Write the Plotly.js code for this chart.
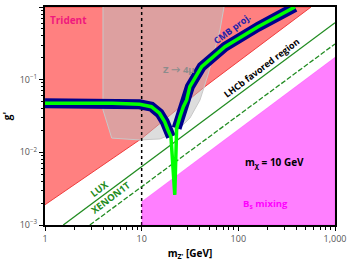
<!DOCTYPE html>
<html><head><meta charset="utf-8">
<script src="https://cdn.plot.ly/plotly-3.0.1.min.js"></script>
<style>html,body{margin:0;padding:0;background:#fff}#c{width:350px;height:268px}</style>
</head><body><div id="c"></div>
<script>
// Trident exclusion boundary (m_Z' [GeV], g')
const tridentX = [1, 10, 45, 565];
const tridentG = [0.0019, 0.0155, 0.08, 1];
// Z -> 4mu exclusion region outline
const zmuX = [3.98, 3.98, 4.9, 9.6, 15.5, 22.1, 31.6, 40.1, 48.5, 57.4, 64.6, 71.1];
const zmuG = [1, 0.0383, 0.0157, 0.0148, 0.0153, 0.0185, 0.0297, 0.0525, 0.116, 0.256, 0.483, 1];
// CMB projection (relic) curve, left and right branches, plus resonance dip
const cmbLeftX = [1, 5, 9.5, 12.6, 15.3, 17.3, 18.7, 20.1];
const cmbLeftG = [0.0473, 0.0472, 0.0458, 0.0425, 0.0345, 0.0264, 0.0203, 0.0163];
const dipX = [22.0];
const dipG = [0.00259];
const cmbRightX = [23.0, 24.9, 27.0, 29.2, 31.5, 41.8, 72.8, 160, 385];
const cmbRightG = [0.0214, 0.0309, 0.0425, 0.0525, 0.08, 0.151, 0.284, 0.535, 1.0];
// Direct detection lines
const luxX = [1.545, 1000];
const luxG = [0.001, 0.608];
const xenonX = [2.91, 1000];
const xenonG = [0.001, 0.31];
// Bs mixing exclusion boundary
const bsX = [10, 1000];
const bsG = [0.00209, 0.203];
// DM mass marker
const mChi = 10;
const gRange = [0.001, 1];
// ticks
const xTicks = [1, 10, 100, 1000];
const xTickText = ['1', '10', '100', '1,000'];
const yTicks = [0.001, 0.01, 0.1, 1];
const yTickText = ['10<sup>−3</sup>', '10<sup>−2</sup>', '10<sup>−1</sup>', '10<sup>0</sup>'];

const FONT = 'Open Sans, Lato, sans-serif';
const traces = [];
// Trident (red)
traces.push({x: tridentX.concat([tridentX[0]]), y: tridentG.concat([gRange[1]]), mode: 'lines', fill: 'toself',
  fillcolor: 'rgb(255,128,128)', line: {color: 'rgb(240,60,60)', width: 1}, hoverinfo: 'skip'});
// Z -> 4mu (grey, translucent)
traces.push({x: zmuX, y: zmuG, mode: 'lines', fill: 'toself', fillcolor: 'rgba(190,190,190,0.52)',
  line: {color: 'rgb(200,200,200)', width: 1}, hoverinfo: 'skip'});
// dotted m_chi line
traces.push({x: [mChi, mChi], y: gRange, mode: 'lines', line: {color: 'black', width: 1.5, dash: 'dot'}, hoverinfo: 'skip'});
// Bs mixing (magenta)
traces.push({x: bsX.concat([bsX[1], bsX[0]]), y: bsG.concat([gRange[0], gRange[0]]), mode: 'lines', fill: 'toself',
  fillcolor: 'rgba(255,0,255,0.5)', line: {color: 'rgba(255,0,255,0.5)', width: 0.5}, hoverinfo: 'skip'});
// LUX, XENON1T
traces.push({x: luxX, y: luxG, mode: 'lines', line: {color: 'rgb(34,140,34)', width: 1.3}, hoverinfo: 'skip'});
traces.push({x: xenonX, y: xenonG, mode: 'lines', line: {color: 'rgb(34,140,34)', width: 1.3, dash: '5px,2px'}, hoverinfo: 'skip'});
// CMB blue band
traces.push({x: cmbLeftX.concat([null], cmbRightX), y: cmbLeftG.concat([null], cmbRightG), mode: 'lines',
  line: {color: 'rgb(0,0,140)', width: 10}, connectgaps: false, hoverinfo: 'skip'});
// CMB green center incl. dip
traces.push({x: cmbLeftX.concat(dipX, cmbRightX), y: cmbLeftG.concat(dipG, cmbRightG), mode: 'lines',
  line: {color: 'rgb(0,255,0)', width: 3.5}, hoverinfo: 'skip'});

const ann = (x, y, text, color, size, angle) => ({x: Math.log10(x), y: Math.log10(y), xref: 'x', yref: 'y', text: '<b>' + text + '</b>',
  showarrow: false, font: {family: FONT, size: size, color: color}, textangle: angle || 0});

const layout = {
  width: 350, height: 268,
  margin: {l: 45, r: 15, t: 7, b: 43},
  paper_bgcolor: 'white', plot_bgcolor: 'white',
  showlegend: false,
  font: {family: FONT},
  xaxis: {type: 'log', range: [0, 3], tickmode: 'array', tickvals: xTicks, ticktext: xTickText,
    ticks: 'outside', ticklen: 4, tickcolor: 'black', tickwidth: 1,
    minor: {ticks: 'outside', ticklen: 2.5, tickcolor: 'black', dtick: 'D1', showgrid: false},
    showline: true, linecolor: 'black', linewidth: 2, mirror: true, showgrid: false, zeroline: false,
    tickfont: {size: 9, color: '#555'},
    title: {text: '<b>m<sub>Z\'</sub> [GeV]</b>', font: {size: 10, color: 'black'}, standoff: 6}},
  yaxis: {type: 'log', range: [-3, 0], tickmode: 'array', tickvals: yTicks, ticktext: yTickText,
    ticks: 'outside', ticklen: 4, tickcolor: 'black', tickwidth: 1,
    minor: {ticks: 'outside', ticklen: 2.5, tickcolor: 'black', dtick: 'D1', showgrid: false},
    showline: true, linecolor: 'black', linewidth: 2, mirror: true, showgrid: false, zeroline: false,
    tickfont: {size: 9, color: '#555'},
    title: {text: '<b>g\'</b>', font: {size: 10, color: 'black'}, standoff: 6}},
  yaxis2: {type: 'log', range: [-3, 0], overlaying: 'y', side: 'right', tickmode: 'array', tickvals: yTicks,
    ticks: 'inside', ticklen: 4, tickcolor: 'black', showticklabels: false, showgrid: false, zeroline: false,
    minor: {ticks: 'inside', ticklen: 2.5, tickcolor: 'black', dtick: 'D1', showgrid: false}},
  annotations: [
    ann(1.74, 0.662, 'Trident', 'rgb(240,25,125)', 10),
    ann(24.3, 0.136, 'Z → 4μ', 'rgb(140,140,140)', 9.5),
    ann(86, 0.514, 'CMB proj.', 'rgb(35,35,170)', 9, -37),
    ann(176, 0.145, 'LHCb favored region', 'black', 9, -37),
    ann(3.71, 0.00313, 'LUX', 'rgb(34,140,34)', 9.5, -37),
    ann(4.82, 0.00236, 'XENON1T', 'rgb(34,140,34)', 9.5, -37),
    ann(239, 0.00736, 'm<sub>χ</sub> = 10 GeV', 'black', 10),
    ann(189, 0.00195, 'B<sub>s</sub> mixing', 'rgb(255,0,255)', 9.5)
  ]
};
Plotly.newPlot('c', traces, layout, {staticPlot: true, displayModeBar: false});
</script></body></html>
